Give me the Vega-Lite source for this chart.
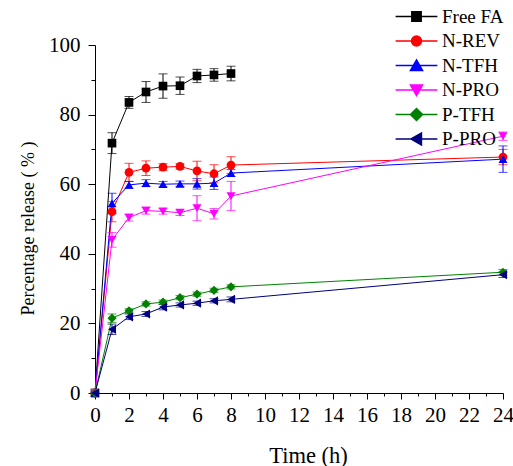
{
  "$schema": "https://vega.github.io/schema/vega-lite/v6.json",
  "width": 408,
  "height": 348,
  "autosize": "none",
  "padding": {"left": 95, "top": 45, "right": 10, "bottom": 73},
  "background": "white",
  "data": {
    "values": [
      {"series": "Free FA", "t": 0, "y": 0, "err": 0},
      {"series": "Free FA", "t": 1, "y": 71.8, "err": 3.0},
      {"series": "Free FA", "t": 2, "y": 83.5, "err": 1.7},
      {"series": "Free FA", "t": 3, "y": 86.5, "err": 3.0},
      {"series": "Free FA", "t": 4, "y": 88.2, "err": 3.5},
      {"series": "Free FA", "t": 5, "y": 88.3, "err": 2.5},
      {"series": "Free FA", "t": 6, "y": 91.1, "err": 1.9},
      {"series": "Free FA", "t": 7, "y": 91.4, "err": 1.8},
      {"series": "Free FA", "t": 8, "y": 91.8, "err": 2.1},
      {"series": "N-REV", "t": 0, "y": 0, "err": 0},
      {"series": "N-REV", "t": 1, "y": 52.1, "err": 2.9},
      {"series": "N-REV", "t": 2, "y": 63.4, "err": 2.6},
      {"series": "N-REV", "t": 3, "y": 64.6, "err": 2.1},
      {"series": "N-REV", "t": 4, "y": 64.9, "err": 1.0},
      {"series": "N-REV", "t": 5, "y": 65.1, "err": 0.8},
      {"series": "N-REV", "t": 6, "y": 63.8, "err": 2.8},
      {"series": "N-REV", "t": 7, "y": 63.0, "err": 2.6},
      {"series": "N-REV", "t": 8, "y": 65.5, "err": 2.4},
      {"series": "N-REV", "t": 24, "y": 67.8, "err": 2.2},
      {"series": "N-TFH", "t": 0, "y": 0, "err": 0},
      {"series": "N-TFH", "t": 1, "y": 54.5, "err": 2.9},
      {"series": "N-TFH", "t": 2, "y": 59.8, "err": 1.0},
      {"series": "N-TFH", "t": 3, "y": 60.3, "err": 1.0},
      {"series": "N-TFH", "t": 4, "y": 60.0, "err": 0.8},
      {"series": "N-TFH", "t": 5, "y": 60.1, "err": 0.8},
      {"series": "N-TFH", "t": 6, "y": 60.1, "err": 1.5},
      {"series": "N-TFH", "t": 7, "y": 60.3, "err": 1.8},
      {"series": "N-TFH", "t": 8, "y": 63.2, "err": 1.0},
      {"series": "N-TFH", "t": 24, "y": 67.2, "err": 3.8},
      {"series": "N-PRO", "t": 0, "y": 0, "err": 0},
      {"series": "N-PRO", "t": 1, "y": 44.0, "err": 2.1},
      {"series": "N-PRO", "t": 2, "y": 50.4, "err": 1.0},
      {"series": "N-PRO", "t": 3, "y": 52.4, "err": 1.0},
      {"series": "N-PRO", "t": 4, "y": 52.2, "err": 0.8},
      {"series": "N-PRO", "t": 5, "y": 51.8, "err": 0.8},
      {"series": "N-PRO", "t": 6, "y": 53.1, "err": 3.6},
      {"series": "N-PRO", "t": 7, "y": 51.5, "err": 1.5},
      {"series": "N-PRO", "t": 8, "y": 56.6, "err": 4.2},
      {"series": "N-PRO", "t": 24, "y": 73.8, "err": 1.2},
      {"series": "P-TFH", "t": 0, "y": 0, "err": 0},
      {"series": "P-TFH", "t": 1, "y": 21.5, "err": 1.2},
      {"series": "P-TFH", "t": 2, "y": 23.6, "err": 0.6},
      {"series": "P-TFH", "t": 3, "y": 25.6, "err": 0.6},
      {"series": "P-TFH", "t": 4, "y": 26.1, "err": 0.6},
      {"series": "P-TFH", "t": 5, "y": 27.4, "err": 0.6},
      {"series": "P-TFH", "t": 6, "y": 28.4, "err": 0.6},
      {"series": "P-TFH", "t": 7, "y": 29.5, "err": 0.6},
      {"series": "P-TFH", "t": 8, "y": 30.5, "err": 0.6},
      {"series": "P-TFH", "t": 24, "y": 34.7, "err": 0.8},
      {"series": "P-PRO", "t": 0, "y": 0, "err": 0},
      {"series": "P-PRO", "t": 1, "y": 18.3, "err": 1.5},
      {"series": "P-PRO", "t": 2, "y": 21.9, "err": 0.8},
      {"series": "P-PRO", "t": 3, "y": 22.7, "err": 0.7},
      {"series": "P-PRO", "t": 4, "y": 24.7, "err": 0.8},
      {"series": "P-PRO", "t": 5, "y": 25.3, "err": 0.6},
      {"series": "P-PRO", "t": 6, "y": 25.8, "err": 0.6},
      {"series": "P-PRO", "t": 7, "y": 26.5, "err": 0.6},
      {"series": "P-PRO", "t": 8, "y": 26.9, "err": 0.7},
      {"series": "P-PRO", "t": 24, "y": 34.0, "err": 0.8}
    ]
  },
  "encoding": {
    "x": {
      "field": "t", "type": "quantitative",
      "scale": {"domain": [0, 24], "nice": false},
      "axis": {
        "title": "Time (h)",
        "values": [0,1,2,3,4,5,6,7,8,9,10,11,12,13,14,15,16,17,18,19,20,21,22,23,24],
        "labelExpr": "datum.value % 2 == 0 ? datum.label : ''",
        "tickSize": {"condition": {"test": "datum.value % 2 == 0", "value": 6}, "value": 3},
        "labelPadding": 5,
        "labelOverlap": false,
        "labelFlush": false,
        "labelFont": "Liberation Serif",
        "labelFontSize": 21,
        "titleFont": "Liberation Serif",
        "titleFontSize": 22.5,
        "titleFontWeight": "normal",
        "titleX": 213,
        "titleY": 69,
        "titleAlign": "center",
        "titleBaseline": "alphabetic"
      }
    },
    "y": {
      "field": "y", "type": "quantitative",
      "scale": {"domain": [0, 100], "nice": false},
      "axis": {
        "title": "Percentage release ( % )",
        "values": [0,10,20,30,40,50,60,70,80,90,100],
        "labelExpr": "datum.value % 20 == 0 ? datum.label : ''",
        "tickSize": {"condition": {"test": "datum.value % 20 == 0", "value": 7}, "value": 4},
        "labelPadding": 8,
        "labelOverlap": false,
        "labelFlush": false,
        "labelFont": "Liberation Serif",
        "labelFontSize": 21,
        "titleFont": "Liberation Serif",
        "titleFontSize": 18,
        "titleFontWeight": "normal",
        "titleX": -67,
        "titleY": 183,
        "titleAngle": -90,
        "titleAlign": "center",
        "titleBaseline": "middle"
      }
    }
  },
  "layer": [
    {
      "mark": {"type": "line", "strokeWidth": 1, "clip": false},
      "encoding": {
        "color": {"field": "series", "type": "nominal", "legend": null,
          "scale": {"domain": ["Free FA", "N-REV", "N-TFH", "N-PRO", "P-TFH", "P-PRO"],
                    "range": ["#000000", "#ff0000", "#0000ff", "#ff00ff", "#008000", "#000080"]}},
        "detail": {"field": "series"},
        "order": {"field": "t"}
      }
    },
    {
      "transform": [{"filter": "datum.err > 0"}],
      "mark": {"type": "errorbar", "ticks": {"size": 9}, "thickness": 1, "clip": false},
      "encoding": {
        "yError": {"field": "err"},
        "color": {"field": "series", "type": "nominal", "legend": null}
      }
    },
    {
      "mark": {"type": "point", "filled": true, "opacity": 1, "clip": false},
      "encoding": {
        "color": {"field": "series", "type": "nominal", "legend": null},
        "shape": {"field": "series", "type": "nominal", "legend": null,
          "scale": {"domain": ["Free FA", "N-REV", "N-TFH", "N-PRO", "P-TFH", "P-PRO"],
                    "range": ["square", "circle", "triangle-up", "triangle-down", "diamond", "triangle-left"]}},
        "size": {"field": "series", "type": "nominal", "legend": null,
          "scale": {"domain": ["Free FA", "N-REV", "N-TFH", "N-PRO", "P-TFH", "P-PRO"],
                    "range": [75, 85, 135, 135, 130, 135]}}
      }
    },
    {
      "mark": {"type": "point", "filled": true, "opacity": 0, "size": 121},
      "encoding": {
        "fill": {"field": "series", "type": "nominal",
          "scale": {"domain": ["Free FA", "N-REV", "N-TFH", "N-PRO", "P-TFH", "P-PRO"],
                    "range": ["#000000", "#ff0000", "#0000ff", "#ff00ff", "#008000", "#000080"]},
          "legend": {"title": null, "orient": "none", "legendX": 312, "legendY": -38,
            "labelFont": "Liberation Serif", "labelFontSize": 19, "labelColor": "black",
            "symbolSize": 121, "symbolStrokeWidth": 1.5, "symbolOpacity": 1,
            "labelOffset": 16, "rowPadding": 4.5, "padding": 0, "labelLimit": 0}},
        "stroke": {"field": "series", "type": "nominal",
          "scale": {"domain": ["Free FA", "N-REV", "N-TFH", "N-PRO", "P-TFH", "P-PRO"],
                    "range": ["#000000", "#ff0000", "#0000ff", "#ff00ff", "#008000", "#000080"]},
          "legend": {"title": null, "orient": "none", "legendX": 312, "legendY": -38,
            "labelFont": "Liberation Serif", "labelFontSize": 19, "labelColor": "black",
            "symbolSize": 121, "symbolStrokeWidth": 1.5, "symbolOpacity": 1,
            "labelOffset": 16, "rowPadding": 4.5, "padding": 0, "labelLimit": 0}},
        "shape": {"field": "series", "type": "nominal",
          "scale": {"domain": ["Free FA", "N-REV", "N-TFH", "N-PRO", "P-TFH", "P-PRO"],
                    "range": [
                      "M-3.8,0H3.8M-0.85,-0.85H0.85V0.85H-0.85Z",
                      "M-3.8,0H3.8M-0.9,0A0.9,0.9,0,1,0,0.9,0A0.9,0.9,0,1,0,-0.9,0Z",
                      "M-3.8,0H3.8M0,-1L1.1,0.9H-1.1Z",
                      "M-3.8,0H3.8M0,1L1.1,-0.9H-1.1Z",
                      "M-3.8,0H3.8M-1.1,0L0,-1.1L1.1,0L0,1.1Z",
                      "M-3.8,0H3.8M-1,0L0.9,-1.1V1.1Z"
                    ]},
          "legend": {"title": null, "orient": "none", "legendX": 312, "legendY": -38,
            "labelFont": "Liberation Serif", "labelFontSize": 19, "labelColor": "black",
            "symbolSize": 121, "symbolStrokeWidth": 1.5, "symbolOpacity": 1,
            "labelOffset": 16, "rowPadding": 4.5, "padding": 0, "labelLimit": 0}}
      }
    }
  ],
  "resolve": {"scale": {"shape": "independent", "fill": "independent", "stroke": "independent"}},
  "config": {
    "font": "Liberation Serif",
    "view": {"stroke": null},
    "axis": {
      "grid": false,
      "domainColor": "black",
      "domainWidth": 1,
      "tickColor": "black",
      "tickWidth": 1,
      "labelColor": "black",
      "titleColor": "black"
    }
  }
}
